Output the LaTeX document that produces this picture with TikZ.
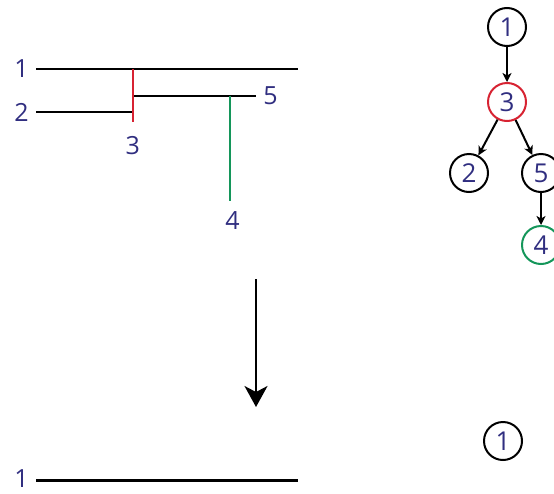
\documentclass[tikz,border=0pt]{standalone}
\usepackage{fontspec}
\setmainfont{Open Sans}
\usetikzlibrary{arrows.meta}
\definecolor{txt}{RGB}{48,46,128}
\definecolor{myred}{RGB}{215,35,50}
\definecolor{mygreen}{RGB}{20,150,90}
\tikzset{
  lbl/.style={inner sep=0pt, text=txt, font=\fontsize{25}{25}\selectfont},
  seg/.style={line width=2.5pt, black},
  redseg/.style={line width=2.2pt, myred},
  greenseg/.style={line width=2.2pt, mygreen},
  tnode/.style={circle, draw=black, line width=2pt, minimum size=38pt, inner sep=0pt, text=txt, font=\fontsize{26}{26}\selectfont},
  tarrow/.style={line width=2pt, -{Stealth[length=9pt,width=9pt,inset=2.5pt]}},
  bigarrow/.style={line width=2.2pt, -{Stealth[length=21pt,width=23pt,inset=6pt]}}
}
\begin{document}
\begin{tikzpicture}[x=1pt,y=-1pt]
\useasboundingbox (0,0) rectangle (554,493);
% left diagram labels
\node[lbl] (l1) at (21.5,69) {1};
\node[lbl] (l2) at (21.5,112) {2};
\node[lbl] (l3) at (132.7,146) {3};
\node[lbl] (l5) at (270.5,96) {5};
\node[lbl] (l4) at (232.5,221) {4};
% coordinates
\coordinate (a1) at (36,69);
\coordinate (b1) at (298,69);
\coordinate (a2) at (36,112);
\coordinate (b2) at (132,112);
\coordinate (r1) at (132.7,69);
\coordinate (r2) at (132.7,122);
\coordinate (a5) at (132.7,96);
\coordinate (b5) at (256,96);
\coordinate (g1) at (230,96);
\coordinate (g2) at (230,201);
\draw[seg] (a1) -- (b1);
\draw[seg] (a2) -- (b2);
\draw[seg] (a5) -- (b5);
\draw[redseg] (r1) -- (r2);
\draw[greenseg] (g1) -- (g2);
% tree
\node[tnode] (t1) at (507,27) {1};
\node[tnode, draw=myred] (t3) at (507,102) {3};
\node[tnode] (t2) at (469,173) {2};
\node[tnode] (t5) at (541,173) {5};
\node[tnode, draw=mygreen] (t4) at (541,245) {4};
\draw[tarrow] (t1) -- (t3);
\draw[tarrow] (t3) -- (t2);
\draw[tarrow] (t3) -- (t5);
\draw[tarrow] (t5) -- (t4);
% big arrow
\coordinate (A1) at (256,279);
\coordinate (A2) at (256,407);
\draw[bigarrow] (A1) -- (A2);
% bottom
\node[lbl] (m1) at (21.5,479) {1};
\coordinate (c1) at (36,480.5);
\coordinate (d1) at (298,480.5);
\draw[seg] (c1) -- (d1);
\node[tnode] (u1) at (503,441) {1};
\end{tikzpicture}
\end{document}
